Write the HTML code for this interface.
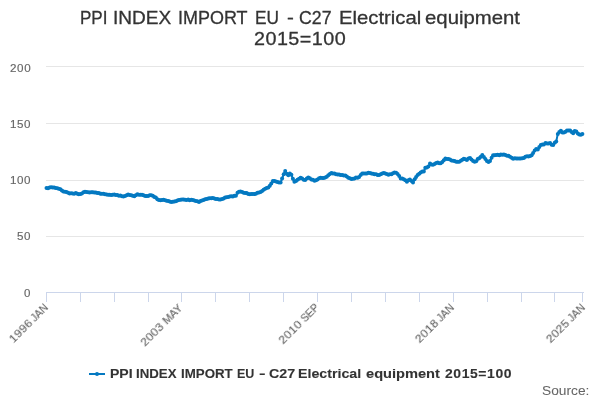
<!DOCTYPE html>
<html><head><meta charset="utf-8"><title>PPI INDEX IMPORT EU - C27 Electrical equipment 2015=100</title>
<style>
html,body{margin:0;padding:0;background:#fff}
#chart{position:relative;width:600px;height:400px;overflow:hidden;background:#fff;font-family:"Liberation Sans",sans-serif}
#chart svg{position:absolute;left:0;top:0}
#chart div{position:absolute;white-space:nowrap;line-height:0;height:20px;will-change:transform}
#chart i{display:inline-block;width:0;height:20px}
#chart span{display:inline-block;text-align:left;transform-origin:0 50%}
.t{font-size:19px;color:#333333;-webkit-text-stroke:0.3px #333333}
.a{font-size:11.2px;color:#666666;-webkit-text-stroke:0.15px #666666}
.x{font-size:11.4px;color:#666666;-webkit-text-stroke:0.15px #666666}
.g{font-size:12.7px;font-weight:bold;color:#333333;-webkit-text-stroke:0.1px #333333}
.s{font-size:12.6px;color:#666666;-webkit-text-stroke:0.05px #666666}
</style></head><body>
<div id="chart">
<svg width="600" height="400" viewBox="0 0 600 400">
<rect width="600" height="400" fill="#fff"/>
<g stroke="#e6e6e6" stroke-width="1" fill="none"><path d="M46 66.5H584"/><path d="M46 123.5H584"/><path d="M46 180.5H584"/><path d="M46 236.5H584"/></g>
<g stroke="#ccd6eb" stroke-width="1" fill="none"><path d="M46 292.5H584"/><path d="M46.5 292V302"/><path d="M80.5 292V302"/><path d="M114.5 292V302"/><path d="M148.5 292V302"/><path d="M181.5 292V302"/><path d="M215.5 292V302"/><path d="M249.5 292V302"/><path d="M283.5 292V302"/><path d="M317.5 292V302"/><path d="M351.5 292V302"/><path d="M385.5 292V302"/><path d="M419.5 292V302"/><path d="M453.5 292V302"/><path d="M487.5 292V302"/><path d="M521.5 292V302"/><path d="M554.5 292V302"/><path d="M582.5 292V302"/></g>
<polyline points="46.5,187.9 48.0,188.2 49.6,187.5 51.1,187.3 52.7,187.5 54.2,187.4 55.7,188.0 57.3,188.3 58.8,188.7 60.4,189.3 61.9,190.4 63.4,191.4 65.0,191.7 66.5,192.0 68.1,192.7 69.6,193.6 71.1,193.2 72.7,193.4 74.2,193.7 75.8,193.1 77.3,193.7 78.8,194.2 80.4,194.0 81.9,193.5 83.5,192.2 85.0,191.7 86.5,192.1 88.1,192.3 89.6,192.4 91.2,192.3 92.7,192.3 94.2,192.6 95.8,192.6 97.3,192.9 98.9,193.1 100.4,193.7 101.9,193.8 103.5,193.8 105.0,194.3 106.6,194.4 108.1,194.8 109.6,194.8 111.2,195.0 112.7,194.7 114.3,194.6 115.8,194.9 117.3,195.0 118.9,195.7 120.4,195.6 122.0,196.3 123.5,196.5 125.0,195.9 126.6,195.3 128.1,194.4 129.7,194.9 131.2,195.2 132.7,195.8 134.3,196.3 135.8,195.2 137.4,194.3 138.9,194.7 140.4,194.8 142.0,194.7 143.5,195.3 145.1,195.9 146.6,196.0 148.1,196.0 149.7,195.3 151.2,195.2 152.8,195.8 154.3,196.9 155.8,197.6 157.4,199.2 158.9,200.0 160.5,200.2 162.0,200.0 163.5,199.7 165.1,200.3 166.6,200.7 168.2,201.1 169.7,201.4 171.2,202.0 172.8,201.7 174.3,201.6 175.9,201.2 177.4,200.5 178.9,200.0 180.5,199.7 182.0,199.4 183.6,199.4 185.1,199.7 186.6,199.9 188.2,199.5 189.7,200.2 191.3,199.8 192.8,200.0 194.3,200.5 195.9,201.0 197.4,201.3 199.0,202.1 200.5,200.9 202.0,200.4 203.6,199.9 205.1,199.2 206.7,198.9 208.2,198.5 209.7,198.2 211.3,198.3 212.8,198.0 214.4,198.6 215.9,199.0 217.4,198.9 219.0,199.4 220.5,199.4 222.1,199.0 223.6,198.5 225.1,197.5 226.7,197.2 228.2,197.1 229.8,196.5 231.3,196.3 232.8,196.4 234.4,195.8 235.9,195.7 237.5,192.7 239.0,191.7 240.5,191.6 242.1,192.1 243.6,192.8 245.2,192.9 246.7,193.1 248.2,193.9 249.8,194.2 251.3,194.0 252.9,194.0 254.4,194.0 255.9,193.7 257.5,192.7 259.0,192.5 260.6,191.9 262.1,191.0 263.6,189.7 265.2,188.7 266.7,188.0 268.3,187.6 269.8,185.7 271.3,183.6 272.9,181.1 274.4,181.0 276.0,181.6 277.5,182.0 279.0,182.5 280.6,182.5 282.1,178.6 283.7,174.2 285.2,171.0 286.7,173.8 288.3,175.2 289.8,173.4 291.4,174.8 292.9,178.8 294.4,181.7 296.0,181.0 297.5,179.7 299.1,178.8 300.6,177.8 302.1,178.4 303.7,179.7 305.2,179.9 306.8,178.6 308.3,177.5 309.8,178.2 311.4,179.5 312.9,179.8 314.5,180.8 316.0,180.2 317.5,179.5 319.1,178.3 320.6,177.8 322.2,178.0 323.7,178.0 325.2,177.6 326.8,176.7 328.3,175.2 329.9,174.0 331.4,173.0 332.9,173.4 334.5,173.5 336.0,174.3 337.6,174.6 339.1,174.5 340.6,175.0 342.2,175.1 343.7,175.4 345.3,175.6 346.8,176.6 348.3,177.7 349.9,178.2 351.4,179.1 353.0,178.7 354.5,178.4 356.0,177.6 357.6,177.7 359.1,177.1 360.7,175.0 362.2,173.4 363.7,173.6 365.3,173.6 366.8,173.5 368.4,172.7 369.9,172.9 371.4,173.4 373.0,173.7 374.5,174.3 376.1,174.2 377.6,175.1 379.1,175.0 380.7,174.2 382.2,173.5 383.8,172.9 385.3,173.5 386.8,174.0 388.4,174.7 389.9,174.2 391.5,174.2 393.0,173.3 394.5,172.6 396.1,172.8 397.6,174.1 399.2,176.0 400.7,178.6 402.2,178.6 403.8,179.2 405.3,180.2 406.9,181.7 408.4,180.2 409.9,179.5 411.5,181.1 413.0,182.6 414.6,179.2 416.1,177.0 417.6,174.9 419.2,173.8 420.7,172.5 422.3,171.5 423.8,171.6 425.3,167.7 426.9,167.4 428.4,166.6 430.0,163.6 431.5,164.5 433.0,164.7 434.6,164.1 436.1,162.9 437.7,162.4 439.2,163.3 440.7,163.3 442.3,162.0 443.8,160.2 445.4,158.5 446.9,159.1 448.4,158.9 450.0,159.4 451.5,160.5 453.1,160.7 454.6,161.1 456.1,161.8 457.7,161.8 459.2,161.7 460.8,160.7 462.3,159.7 463.8,158.8 465.4,159.2 466.9,160.1 468.5,158.6 470.0,158.0 471.5,159.5 473.1,161.1 474.6,161.7 476.2,161.2 477.7,159.1 479.2,158.3 480.8,156.8 482.3,155.0 483.9,157.1 485.4,158.9 486.9,161.0 488.5,161.9 490.0,161.1 491.6,157.8 493.1,155.3 494.6,155.3 496.2,155.0 497.7,154.8 499.3,155.3 500.8,154.6 502.3,154.8 503.9,154.6 505.4,155.1 507.0,155.7 508.5,155.8 510.0,156.8 511.6,157.8 513.1,158.8 514.7,158.2 516.2,158.4 517.7,158.4 519.3,158.6 520.8,158.5 522.4,158.2 523.9,157.9 525.4,156.8 527.0,156.3 528.5,156.4 530.1,156.1 531.6,155.3 533.1,153.1 534.7,150.4 536.2,149.1 537.8,149.6 539.3,146.9 540.8,145.0 542.4,144.6 543.9,144.4 545.5,143.1 547.0,143.5 548.5,143.5 550.1,143.1 551.6,144.7 553.2,145.1 554.7,142.8 556.2,141.6 557.8,134.0 559.3,132.0 560.9,130.8 562.4,132.4 563.9,132.4 565.5,131.8 567.0,130.6 568.6,130.4 570.1,130.6 571.6,132.0 573.2,133.3 574.7,131.1 576.3,131.5 577.8,133.5 579.3,134.5 580.9,134.7 582.4,134.1" fill="none" stroke="#0479c1" stroke-width="2" stroke-linejoin="round" stroke-linecap="round"/>
<g fill="#0479c1"><circle cx="46.5" cy="187.9" r="2"/><circle cx="48.0" cy="188.2" r="2"/><circle cx="49.6" cy="187.5" r="2"/><circle cx="51.1" cy="187.3" r="2"/><circle cx="52.7" cy="187.5" r="2"/><circle cx="54.2" cy="187.4" r="2"/><circle cx="55.7" cy="188.0" r="2"/><circle cx="57.3" cy="188.3" r="2"/><circle cx="58.8" cy="188.7" r="2"/><circle cx="60.4" cy="189.3" r="2"/><circle cx="61.9" cy="190.4" r="2"/><circle cx="63.4" cy="191.4" r="2"/><circle cx="65.0" cy="191.7" r="2"/><circle cx="66.5" cy="192.0" r="2"/><circle cx="68.1" cy="192.7" r="2"/><circle cx="69.6" cy="193.6" r="2"/><circle cx="71.1" cy="193.2" r="2"/><circle cx="72.7" cy="193.4" r="2"/><circle cx="74.2" cy="193.7" r="2"/><circle cx="75.8" cy="193.1" r="2"/><circle cx="77.3" cy="193.7" r="2"/><circle cx="78.8" cy="194.2" r="2"/><circle cx="80.4" cy="194.0" r="2"/><circle cx="81.9" cy="193.5" r="2"/><circle cx="83.5" cy="192.2" r="2"/><circle cx="85.0" cy="191.7" r="2"/><circle cx="86.5" cy="192.1" r="2"/><circle cx="88.1" cy="192.3" r="2"/><circle cx="89.6" cy="192.4" r="2"/><circle cx="91.2" cy="192.3" r="2"/><circle cx="92.7" cy="192.3" r="2"/><circle cx="94.2" cy="192.6" r="2"/><circle cx="95.8" cy="192.6" r="2"/><circle cx="97.3" cy="192.9" r="2"/><circle cx="98.9" cy="193.1" r="2"/><circle cx="100.4" cy="193.7" r="2"/><circle cx="101.9" cy="193.8" r="2"/><circle cx="103.5" cy="193.8" r="2"/><circle cx="105.0" cy="194.3" r="2"/><circle cx="106.6" cy="194.4" r="2"/><circle cx="108.1" cy="194.8" r="2"/><circle cx="109.6" cy="194.8" r="2"/><circle cx="111.2" cy="195.0" r="2"/><circle cx="112.7" cy="194.7" r="2"/><circle cx="114.3" cy="194.6" r="2"/><circle cx="115.8" cy="194.9" r="2"/><circle cx="117.3" cy="195.0" r="2"/><circle cx="118.9" cy="195.7" r="2"/><circle cx="120.4" cy="195.6" r="2"/><circle cx="122.0" cy="196.3" r="2"/><circle cx="123.5" cy="196.5" r="2"/><circle cx="125.0" cy="195.9" r="2"/><circle cx="126.6" cy="195.3" r="2"/><circle cx="128.1" cy="194.4" r="2"/><circle cx="129.7" cy="194.9" r="2"/><circle cx="131.2" cy="195.2" r="2"/><circle cx="132.7" cy="195.8" r="2"/><circle cx="134.3" cy="196.3" r="2"/><circle cx="135.8" cy="195.2" r="2"/><circle cx="137.4" cy="194.3" r="2"/><circle cx="138.9" cy="194.7" r="2"/><circle cx="140.4" cy="194.8" r="2"/><circle cx="142.0" cy="194.7" r="2"/><circle cx="143.5" cy="195.3" r="2"/><circle cx="145.1" cy="195.9" r="2"/><circle cx="146.6" cy="196.0" r="2"/><circle cx="148.1" cy="196.0" r="2"/><circle cx="149.7" cy="195.3" r="2"/><circle cx="151.2" cy="195.2" r="2"/><circle cx="152.8" cy="195.8" r="2"/><circle cx="154.3" cy="196.9" r="2"/><circle cx="155.8" cy="197.6" r="2"/><circle cx="157.4" cy="199.2" r="2"/><circle cx="158.9" cy="200.0" r="2"/><circle cx="160.5" cy="200.2" r="2"/><circle cx="162.0" cy="200.0" r="2"/><circle cx="163.5" cy="199.7" r="2"/><circle cx="165.1" cy="200.3" r="2"/><circle cx="166.6" cy="200.7" r="2"/><circle cx="168.2" cy="201.1" r="2"/><circle cx="169.7" cy="201.4" r="2"/><circle cx="171.2" cy="202.0" r="2"/><circle cx="172.8" cy="201.7" r="2"/><circle cx="174.3" cy="201.6" r="2"/><circle cx="175.9" cy="201.2" r="2"/><circle cx="177.4" cy="200.5" r="2"/><circle cx="178.9" cy="200.0" r="2"/><circle cx="180.5" cy="199.7" r="2"/><circle cx="182.0" cy="199.4" r="2"/><circle cx="183.6" cy="199.4" r="2"/><circle cx="185.1" cy="199.7" r="2"/><circle cx="186.6" cy="199.9" r="2"/><circle cx="188.2" cy="199.5" r="2"/><circle cx="189.7" cy="200.2" r="2"/><circle cx="191.3" cy="199.8" r="2"/><circle cx="192.8" cy="200.0" r="2"/><circle cx="194.3" cy="200.5" r="2"/><circle cx="195.9" cy="201.0" r="2"/><circle cx="197.4" cy="201.3" r="2"/><circle cx="199.0" cy="202.1" r="2"/><circle cx="200.5" cy="200.9" r="2"/><circle cx="202.0" cy="200.4" r="2"/><circle cx="203.6" cy="199.9" r="2"/><circle cx="205.1" cy="199.2" r="2"/><circle cx="206.7" cy="198.9" r="2"/><circle cx="208.2" cy="198.5" r="2"/><circle cx="209.7" cy="198.2" r="2"/><circle cx="211.3" cy="198.3" r="2"/><circle cx="212.8" cy="198.0" r="2"/><circle cx="214.4" cy="198.6" r="2"/><circle cx="215.9" cy="199.0" r="2"/><circle cx="217.4" cy="198.9" r="2"/><circle cx="219.0" cy="199.4" r="2"/><circle cx="220.5" cy="199.4" r="2"/><circle cx="222.1" cy="199.0" r="2"/><circle cx="223.6" cy="198.5" r="2"/><circle cx="225.1" cy="197.5" r="2"/><circle cx="226.7" cy="197.2" r="2"/><circle cx="228.2" cy="197.1" r="2"/><circle cx="229.8" cy="196.5" r="2"/><circle cx="231.3" cy="196.3" r="2"/><circle cx="232.8" cy="196.4" r="2"/><circle cx="234.4" cy="195.8" r="2"/><circle cx="235.9" cy="195.7" r="2"/><circle cx="237.5" cy="192.7" r="2"/><circle cx="239.0" cy="191.7" r="2"/><circle cx="240.5" cy="191.6" r="2"/><circle cx="242.1" cy="192.1" r="2"/><circle cx="243.6" cy="192.8" r="2"/><circle cx="245.2" cy="192.9" r="2"/><circle cx="246.7" cy="193.1" r="2"/><circle cx="248.2" cy="193.9" r="2"/><circle cx="249.8" cy="194.2" r="2"/><circle cx="251.3" cy="194.0" r="2"/><circle cx="252.9" cy="194.0" r="2"/><circle cx="254.4" cy="194.0" r="2"/><circle cx="255.9" cy="193.7" r="2"/><circle cx="257.5" cy="192.7" r="2"/><circle cx="259.0" cy="192.5" r="2"/><circle cx="260.6" cy="191.9" r="2"/><circle cx="262.1" cy="191.0" r="2"/><circle cx="263.6" cy="189.7" r="2"/><circle cx="265.2" cy="188.7" r="2"/><circle cx="266.7" cy="188.0" r="2"/><circle cx="268.3" cy="187.6" r="2"/><circle cx="269.8" cy="185.7" r="2"/><circle cx="271.3" cy="183.6" r="2"/><circle cx="272.9" cy="181.1" r="2"/><circle cx="274.4" cy="181.0" r="2"/><circle cx="276.0" cy="181.6" r="2"/><circle cx="277.5" cy="182.0" r="2"/><circle cx="279.0" cy="182.5" r="2"/><circle cx="280.6" cy="182.5" r="2"/><circle cx="282.1" cy="178.6" r="2"/><circle cx="283.7" cy="174.2" r="2"/><circle cx="285.2" cy="171.0" r="2"/><circle cx="286.7" cy="173.8" r="2"/><circle cx="288.3" cy="175.2" r="2"/><circle cx="289.8" cy="173.4" r="2"/><circle cx="291.4" cy="174.8" r="2"/><circle cx="292.9" cy="178.8" r="2"/><circle cx="294.4" cy="181.7" r="2"/><circle cx="296.0" cy="181.0" r="2"/><circle cx="297.5" cy="179.7" r="2"/><circle cx="299.1" cy="178.8" r="2"/><circle cx="300.6" cy="177.8" r="2"/><circle cx="302.1" cy="178.4" r="2"/><circle cx="303.7" cy="179.7" r="2"/><circle cx="305.2" cy="179.9" r="2"/><circle cx="306.8" cy="178.6" r="2"/><circle cx="308.3" cy="177.5" r="2"/><circle cx="309.8" cy="178.2" r="2"/><circle cx="311.4" cy="179.5" r="2"/><circle cx="312.9" cy="179.8" r="2"/><circle cx="314.5" cy="180.8" r="2"/><circle cx="316.0" cy="180.2" r="2"/><circle cx="317.5" cy="179.5" r="2"/><circle cx="319.1" cy="178.3" r="2"/><circle cx="320.6" cy="177.8" r="2"/><circle cx="322.2" cy="178.0" r="2"/><circle cx="323.7" cy="178.0" r="2"/><circle cx="325.2" cy="177.6" r="2"/><circle cx="326.8" cy="176.7" r="2"/><circle cx="328.3" cy="175.2" r="2"/><circle cx="329.9" cy="174.0" r="2"/><circle cx="331.4" cy="173.0" r="2"/><circle cx="332.9" cy="173.4" r="2"/><circle cx="334.5" cy="173.5" r="2"/><circle cx="336.0" cy="174.3" r="2"/><circle cx="337.6" cy="174.6" r="2"/><circle cx="339.1" cy="174.5" r="2"/><circle cx="340.6" cy="175.0" r="2"/><circle cx="342.2" cy="175.1" r="2"/><circle cx="343.7" cy="175.4" r="2"/><circle cx="345.3" cy="175.6" r="2"/><circle cx="346.8" cy="176.6" r="2"/><circle cx="348.3" cy="177.7" r="2"/><circle cx="349.9" cy="178.2" r="2"/><circle cx="351.4" cy="179.1" r="2"/><circle cx="353.0" cy="178.7" r="2"/><circle cx="354.5" cy="178.4" r="2"/><circle cx="356.0" cy="177.6" r="2"/><circle cx="357.6" cy="177.7" r="2"/><circle cx="359.1" cy="177.1" r="2"/><circle cx="360.7" cy="175.0" r="2"/><circle cx="362.2" cy="173.4" r="2"/><circle cx="363.7" cy="173.6" r="2"/><circle cx="365.3" cy="173.6" r="2"/><circle cx="366.8" cy="173.5" r="2"/><circle cx="368.4" cy="172.7" r="2"/><circle cx="369.9" cy="172.9" r="2"/><circle cx="371.4" cy="173.4" r="2"/><circle cx="373.0" cy="173.7" r="2"/><circle cx="374.5" cy="174.3" r="2"/><circle cx="376.1" cy="174.2" r="2"/><circle cx="377.6" cy="175.1" r="2"/><circle cx="379.1" cy="175.0" r="2"/><circle cx="380.7" cy="174.2" r="2"/><circle cx="382.2" cy="173.5" r="2"/><circle cx="383.8" cy="172.9" r="2"/><circle cx="385.3" cy="173.5" r="2"/><circle cx="386.8" cy="174.0" r="2"/><circle cx="388.4" cy="174.7" r="2"/><circle cx="389.9" cy="174.2" r="2"/><circle cx="391.5" cy="174.2" r="2"/><circle cx="393.0" cy="173.3" r="2"/><circle cx="394.5" cy="172.6" r="2"/><circle cx="396.1" cy="172.8" r="2"/><circle cx="397.6" cy="174.1" r="2"/><circle cx="399.2" cy="176.0" r="2"/><circle cx="400.7" cy="178.6" r="2"/><circle cx="402.2" cy="178.6" r="2"/><circle cx="403.8" cy="179.2" r="2"/><circle cx="405.3" cy="180.2" r="2"/><circle cx="406.9" cy="181.7" r="2"/><circle cx="408.4" cy="180.2" r="2"/><circle cx="409.9" cy="179.5" r="2"/><circle cx="411.5" cy="181.1" r="2"/><circle cx="413.0" cy="182.6" r="2"/><circle cx="414.6" cy="179.2" r="2"/><circle cx="416.1" cy="177.0" r="2"/><circle cx="417.6" cy="174.9" r="2"/><circle cx="419.2" cy="173.8" r="2"/><circle cx="420.7" cy="172.5" r="2"/><circle cx="422.3" cy="171.5" r="2"/><circle cx="423.8" cy="171.6" r="2"/><circle cx="425.3" cy="167.7" r="2"/><circle cx="426.9" cy="167.4" r="2"/><circle cx="428.4" cy="166.6" r="2"/><circle cx="430.0" cy="163.6" r="2"/><circle cx="431.5" cy="164.5" r="2"/><circle cx="433.0" cy="164.7" r="2"/><circle cx="434.6" cy="164.1" r="2"/><circle cx="436.1" cy="162.9" r="2"/><circle cx="437.7" cy="162.4" r="2"/><circle cx="439.2" cy="163.3" r="2"/><circle cx="440.7" cy="163.3" r="2"/><circle cx="442.3" cy="162.0" r="2"/><circle cx="443.8" cy="160.2" r="2"/><circle cx="445.4" cy="158.5" r="2"/><circle cx="446.9" cy="159.1" r="2"/><circle cx="448.4" cy="158.9" r="2"/><circle cx="450.0" cy="159.4" r="2"/><circle cx="451.5" cy="160.5" r="2"/><circle cx="453.1" cy="160.7" r="2"/><circle cx="454.6" cy="161.1" r="2"/><circle cx="456.1" cy="161.8" r="2"/><circle cx="457.7" cy="161.8" r="2"/><circle cx="459.2" cy="161.7" r="2"/><circle cx="460.8" cy="160.7" r="2"/><circle cx="462.3" cy="159.7" r="2"/><circle cx="463.8" cy="158.8" r="2"/><circle cx="465.4" cy="159.2" r="2"/><circle cx="466.9" cy="160.1" r="2"/><circle cx="468.5" cy="158.6" r="2"/><circle cx="470.0" cy="158.0" r="2"/><circle cx="471.5" cy="159.5" r="2"/><circle cx="473.1" cy="161.1" r="2"/><circle cx="474.6" cy="161.7" r="2"/><circle cx="476.2" cy="161.2" r="2"/><circle cx="477.7" cy="159.1" r="2"/><circle cx="479.2" cy="158.3" r="2"/><circle cx="480.8" cy="156.8" r="2"/><circle cx="482.3" cy="155.0" r="2"/><circle cx="483.9" cy="157.1" r="2"/><circle cx="485.4" cy="158.9" r="2"/><circle cx="486.9" cy="161.0" r="2"/><circle cx="488.5" cy="161.9" r="2"/><circle cx="490.0" cy="161.1" r="2"/><circle cx="491.6" cy="157.8" r="2"/><circle cx="493.1" cy="155.3" r="2"/><circle cx="494.6" cy="155.3" r="2"/><circle cx="496.2" cy="155.0" r="2"/><circle cx="497.7" cy="154.8" r="2"/><circle cx="499.3" cy="155.3" r="2"/><circle cx="500.8" cy="154.6" r="2"/><circle cx="502.3" cy="154.8" r="2"/><circle cx="503.9" cy="154.6" r="2"/><circle cx="505.4" cy="155.1" r="2"/><circle cx="507.0" cy="155.7" r="2"/><circle cx="508.5" cy="155.8" r="2"/><circle cx="510.0" cy="156.8" r="2"/><circle cx="511.6" cy="157.8" r="2"/><circle cx="513.1" cy="158.8" r="2"/><circle cx="514.7" cy="158.2" r="2"/><circle cx="516.2" cy="158.4" r="2"/><circle cx="517.7" cy="158.4" r="2"/><circle cx="519.3" cy="158.6" r="2"/><circle cx="520.8" cy="158.5" r="2"/><circle cx="522.4" cy="158.2" r="2"/><circle cx="523.9" cy="157.9" r="2"/><circle cx="525.4" cy="156.8" r="2"/><circle cx="527.0" cy="156.3" r="2"/><circle cx="528.5" cy="156.4" r="2"/><circle cx="530.1" cy="156.1" r="2"/><circle cx="531.6" cy="155.3" r="2"/><circle cx="533.1" cy="153.1" r="2"/><circle cx="534.7" cy="150.4" r="2"/><circle cx="536.2" cy="149.1" r="2"/><circle cx="537.8" cy="149.6" r="2"/><circle cx="539.3" cy="146.9" r="2"/><circle cx="540.8" cy="145.0" r="2"/><circle cx="542.4" cy="144.6" r="2"/><circle cx="543.9" cy="144.4" r="2"/><circle cx="545.5" cy="143.1" r="2"/><circle cx="547.0" cy="143.5" r="2"/><circle cx="548.5" cy="143.5" r="2"/><circle cx="550.1" cy="143.1" r="2"/><circle cx="551.6" cy="144.7" r="2"/><circle cx="553.2" cy="145.1" r="2"/><circle cx="554.7" cy="142.8" r="2"/><circle cx="556.2" cy="141.6" r="2"/><circle cx="557.8" cy="134.0" r="2"/><circle cx="559.3" cy="132.0" r="2"/><circle cx="560.9" cy="130.8" r="2"/><circle cx="562.4" cy="132.4" r="2"/><circle cx="563.9" cy="132.4" r="2"/><circle cx="565.5" cy="131.8" r="2"/><circle cx="567.0" cy="130.6" r="2"/><circle cx="568.6" cy="130.4" r="2"/><circle cx="570.1" cy="130.6" r="2"/><circle cx="571.6" cy="132.0" r="2"/><circle cx="573.2" cy="133.3" r="2"/><circle cx="574.7" cy="131.1" r="2"/><circle cx="576.3" cy="131.5" r="2"/><circle cx="577.8" cy="133.5" r="2"/><circle cx="579.3" cy="134.5" r="2"/><circle cx="580.9" cy="134.7" r="2"/><circle cx="582.4" cy="134.1" r="2"/></g>
<path d="M89 374H105" stroke="#0479c1" stroke-width="2" fill="none"/><circle cx="97" cy="374" r="2" fill="#0479c1"/>
</svg>
<div class="t" style="left:79.6px;top:4px;"><i></i><span style="width:33.14px;transform:scaleX(0.8970)">PPI </span><span style="width:64.85px;transform:scaleX(1.0015)">INDEX </span><span style="width:77.24px;transform:scaleX(0.9450)">IMPORT </span><span style="width:31.76px;transform:scaleX(0.9093)">EU </span><span style="width:11.76px;transform:scaleX(1.0779)">- </span><span style="width:40.74px;transform:scaleX(0.9337)">C27 </span><span style="width:85.65px;transform:scaleX(1.0674)">Electrical </span><span style="width:96.86px;transform:scaleX(1.0708)">equipment</span></div>
<div class="t" style="left:253.71px;top:25px;"><i></i><span style="width:92.99px;letter-spacing:0.45px;transform:scaleX(1.0400)">2015=100</span></div>
<div class="a" style="left:10.11px;top:52px;"><i></i><span style="width:22.19px;letter-spacing:0.58px;transform:scaleX(1.0400)">200</span></div>
<div class="a" style="left:10.31px;top:108px;"><i></i><span style="width:21.99px;letter-spacing:0.48px;transform:scaleX(1.0400)">150</span></div>
<div class="a" style="left:10.31px;top:164px;"><i></i><span style="width:21.99px;letter-spacing:0.48px;transform:scaleX(1.0400)">100</span></div>
<div class="a" style="left:17.23px;top:220px;"><i></i><span style="width:15.07px;letter-spacing:0.54px;transform:scaleX(1.0400)">50</span></div>
<div class="a" style="left:24.35px;top:277px;"><i></i><span style="width:7.95px;transform:scaleX(1.0273)">0</span></div>
<div class="x" style="left:-1.2px;top:287.5px;transform-origin:50.2px 20px;transform:rotate(-45deg);"><i></i><span style="width:29.94px;letter-spacing:0.37px;transform:scaleX(1.0400)">1996 </span><span style="width:20.86px;transform:scaleX(0.9154)">JAN</span></div>
<div class="x" style="left:129px;top:287.5px;transform-origin:55px 20px;transform:rotate(-45deg);"><i></i><span style="width:31px;letter-spacing:0.33px;transform:scaleX(1.0400)">2003 </span><span style="width:25.5px;transform:scaleX(0.9610)">MAY</span></div>
<div class="x" style="left:268.1px;top:287.5px;transform-origin:51.9px 20px;transform:rotate(-45deg);"><i></i><span style="width:31.03px;letter-spacing:0.38px;transform:scaleX(1.0400)">2010 </span><span style="width:22.07px;transform:scaleX(0.9035)">SEP</span></div>
<div class="x" style="left:405.3px;top:287.5px;transform-origin:50.3px 20px;transform:rotate(-45deg);"><i></i><span style="width:30.03px;letter-spacing:0.36px;transform:scaleX(1.0400)">2018 </span><span style="width:20.86px;transform:scaleX(0.9154)">JAN</span></div>
<div class="x" style="left:535.5px;top:287.5px;transform-origin:50.3px 20px;transform:rotate(-45deg);"><i></i><span style="width:30.03px;letter-spacing:0.29px;transform:scaleX(1.0400)">2025 </span><span style="width:20.86px;transform:scaleX(0.9154)">JAN</span></div>
<div class="g" style="left:109.81px;top:358px;"><i></i><span style="width:26.3px;transform:scaleX(1.1054)">PPI </span><span style="width:44.75px;transform:scaleX(1.0435)">INDEX </span><span style="width:55.81px;transform:scaleX(1.0486)">IMPORT </span><span style="width:21.82px;transform:scaleX(0.9833)">EU </span><span style="width:10.18px;transform:scaleX(1.5506)">- </span><span style="width:29.14px;transform:scaleX(1.1252)">C27 </span><span style="width:67.88px;transform:scaleX(1.1191)">Electrical </span><span style="width:79.34px;transform:scaleX(1.1525)">equipment </span><span style="width:67.98px;letter-spacing:0.52px;transform:scaleX(1.1000)">2015=100</span></div>
<div class="s" style="left:542.18px;top:375px;"><i></i><span style="width:48.12px;transform:scaleX(1.0911)">Source:</span></div>
</div>
</body></html>
